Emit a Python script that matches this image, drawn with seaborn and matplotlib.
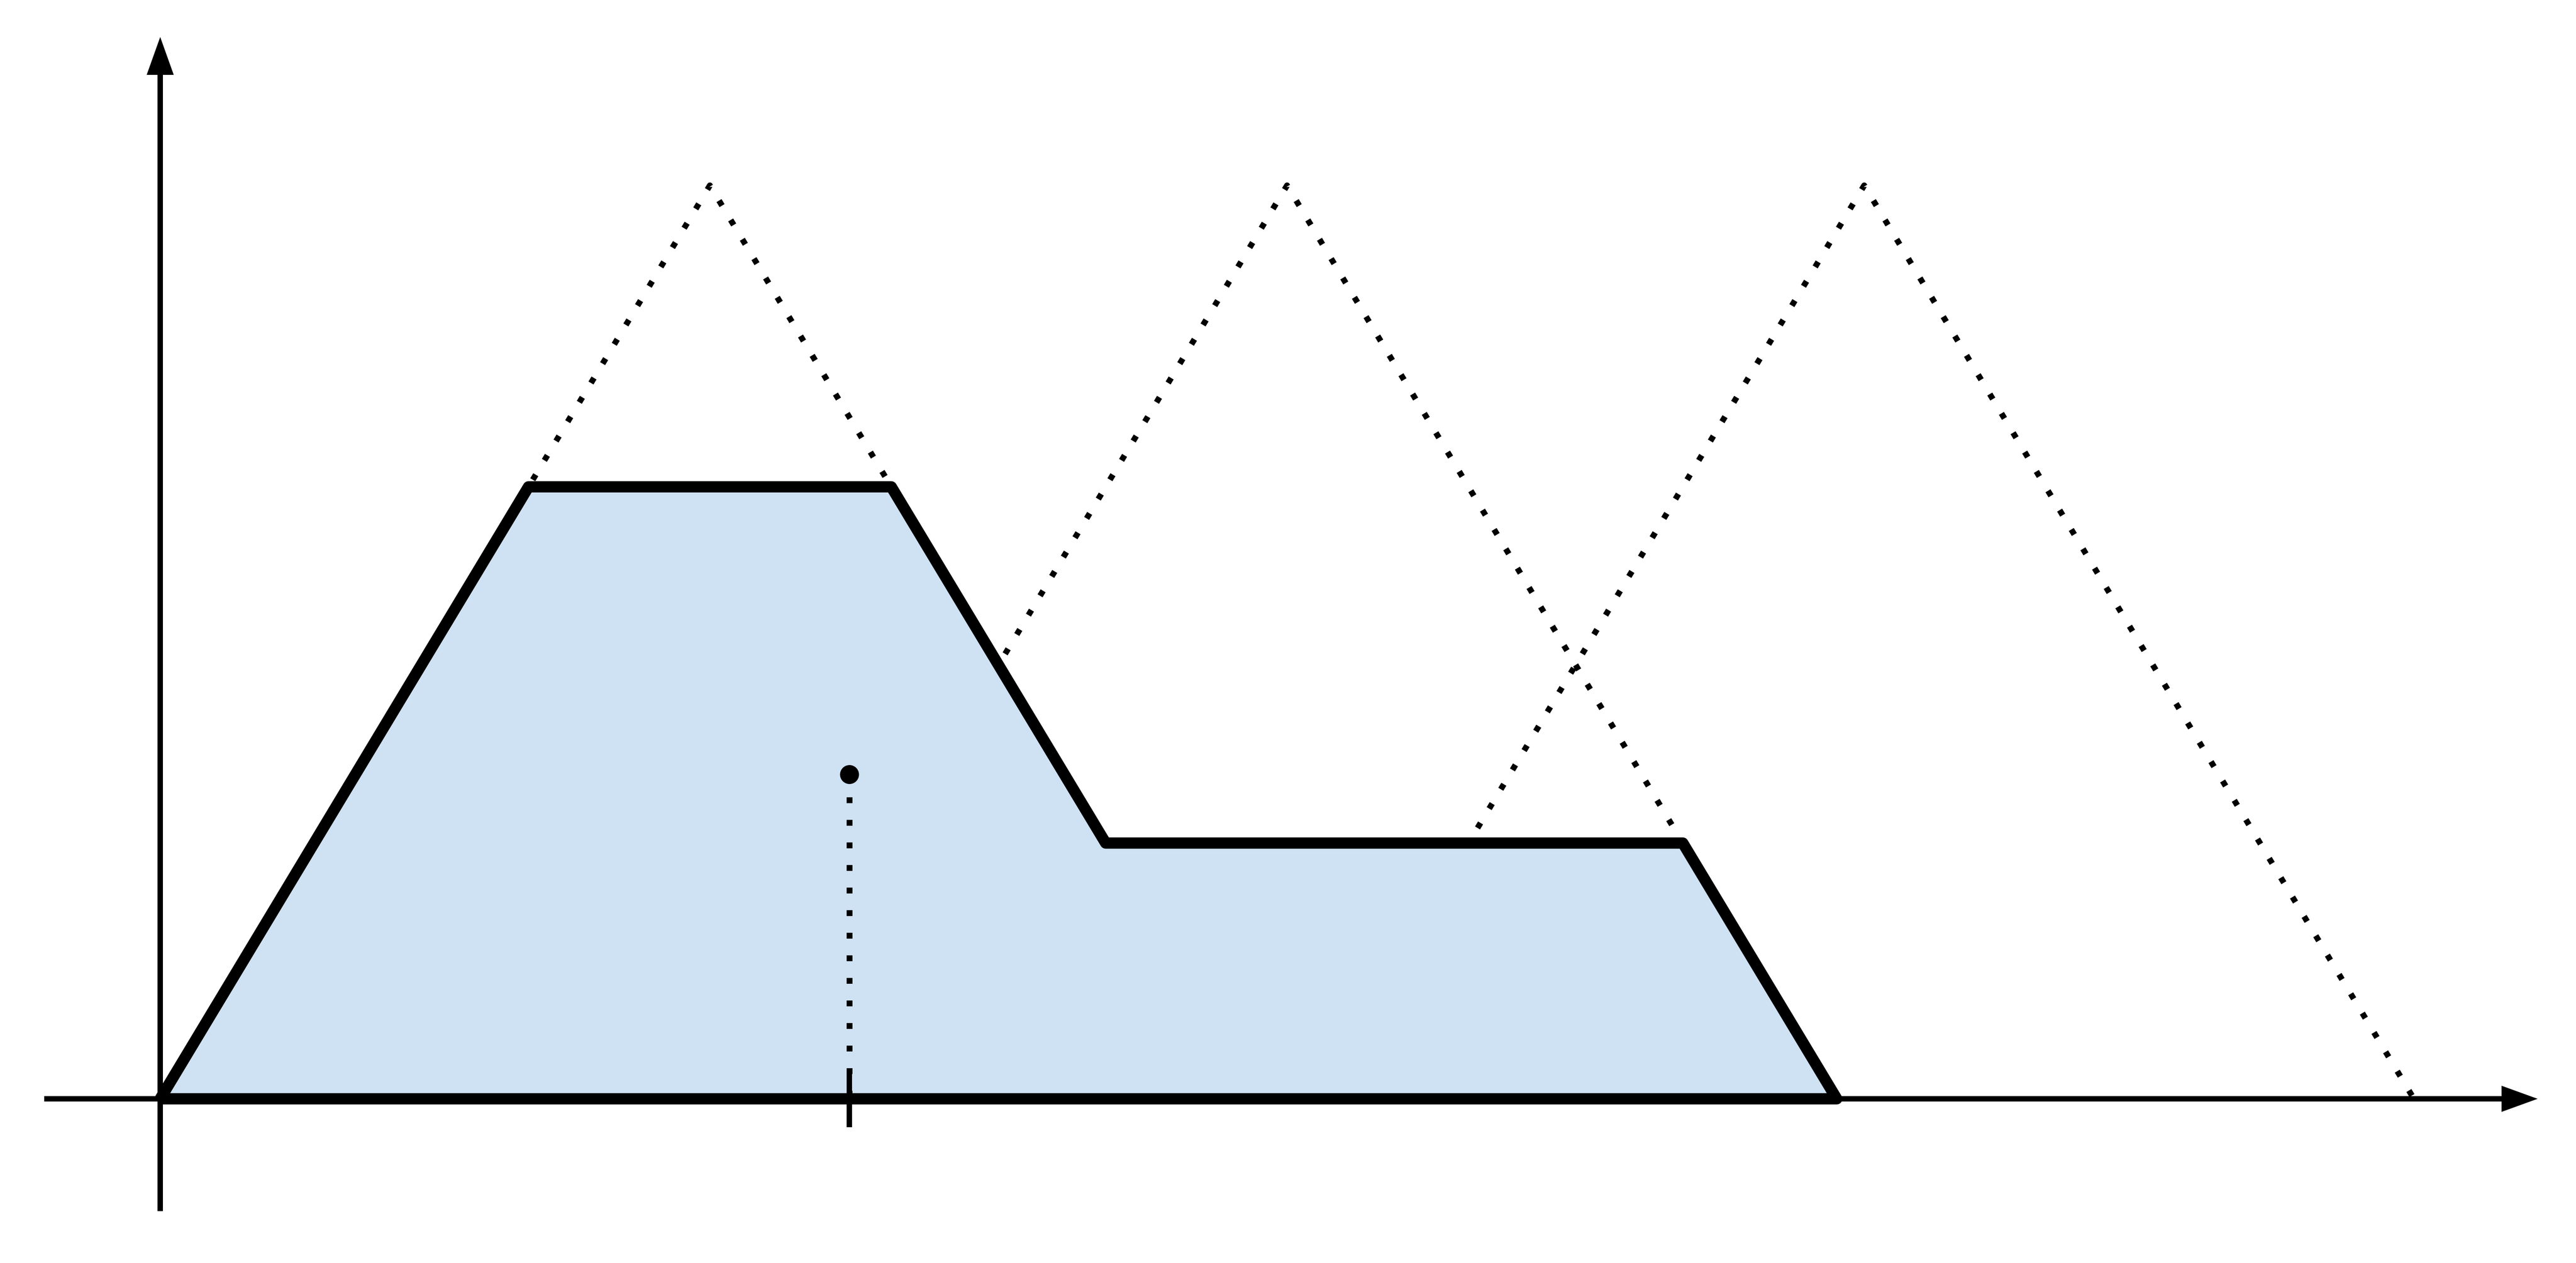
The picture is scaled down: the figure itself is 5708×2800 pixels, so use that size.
import numpy as np
import pandas as pd
import matplotlib
matplotlib.use("Agg")
import matplotlib.pyplot as plt
import seaborn as sns

# ---------------- data ----------------
set_names = ["low", "medium", "high"]
set_left = [0.0, 10.5, 21.0]
set_peak = [10.0, 20.5, 31.0]
set_right = [20.0, 30.5, 41.0]
set_height = [1.0, 1.0, 1.0]

# aggregated (clipped) output region
agg_x = [0.0, 6.7, 13.3, 17.2, 27.7, 30.5]
agg_y = [0.0, 0.67, 0.67, 0.28, 0.28, 0.0]

# centroid
centroid_x = [12.54]
centroid_y = [0.355]

# ---------------- canvas geometry ----------------
W, H, DPI = 5708, 2800, 200
ORIGIN_PX = (355.0, 2436.0)
PX_PER_X = 121.8
PX_PER_Y = 2025.0


def pt(px):
    return px * 72.0 / DPI


def dx(px):
    return (px - ORIGIN_PX[0]) / PX_PER_X


def dy(py):
    return (ORIGIN_PX[1] - py) / PX_PER_Y


sns.set_theme(style="white")
fig = plt.figure(figsize=(W / DPI, H / DPI), dpi=DPI)
ax = fig.add_axes([0, 0, 1, 1])
ax.set_xlim(dx(0), dx(W))
ax.set_ylim(dy(H), dy(0))
ax.axis("off")

# membership triangles (dotted)
rows = []
for n, l, p, r, h in zip(set_names, set_left, set_peak, set_right, set_height):
    rows += [(n, 0, l, 0.0), (n, 1, p, h), (n, 2, r, 0.0)]
tri_df = pd.DataFrame(rows, columns=["set", "order", "x", "y"])
sns.lineplot(data=tri_df, x="x", y="y", units="set", estimator=None, sort=False,
             color="black", lw=pt(13), linestyle=(0, (1, 2.85)),
             dash_capstyle="butt", ax=ax, zorder=1, legend=False)

# aggregated region: fill + thick outline
ax.fill_between(agg_x, agg_y, color="#cfe2f3", lw=0, zorder=2)
outline_df = pd.DataFrame({"x": agg_x + [agg_x[0]], "y": agg_y + [agg_y[0]]})
sns.lineplot(data=outline_df, x="x", y="y", estimator=None, sort=False,
             color="black", lw=pt(25), solid_joinstyle="round",
             solid_capstyle="butt", ax=ax, zorder=3)

# axes with arrowheads
ax.plot([dx(98), dx(5548)], [0, 0], color="black", lw=pt(12),
        solid_capstyle="butt", zorder=2.5)
ax.fill([dx(5543), dx(5623), dx(5543)], [dy(ORIGIN_PX[1] - 29), 0, dy(ORIGIN_PX[1] + 29)],
        color="black", lw=0, zorder=4)
ax.plot([0, 0], [dy(2685), dy(160)], color="black", lw=pt(12),
        solid_capstyle="butt", zorder=4)
ax.fill([dx(ORIGIN_PX[0] - 30), 0, dx(ORIGIN_PX[0] + 30)], [dy(166), dy(82), dy(166)],
        color="black", lw=0, zorder=4)

# centroid: dotted drop line, tick, marker
drop_df = pd.DataFrame({"x": [centroid_x[0], centroid_x[0]], "y": [centroid_y[0], 0.0]})
sns.lineplot(data=drop_df, x="x", y="y", estimator=None, sort=False,
             color="black", lw=pt(13), linestyle=(0, (1, 2.85)),
             dash_capstyle="butt", ax=ax, zorder=4)
ax.plot([centroid_x[0], centroid_x[0]], [dy(2373), dy(2499)], color="black",
        lw=pt(12), solid_capstyle="butt", zorder=4)
sns.scatterplot(x=centroid_x, y=centroid_y, s=pt(42) ** 2, color="black",
                edgecolor="none", ax=ax, zorder=5, legend=False)

ax.set_xlabel("")
ax.set_ylabel("")
fig.savefig("out.png", dpi=DPI, facecolor="white")
